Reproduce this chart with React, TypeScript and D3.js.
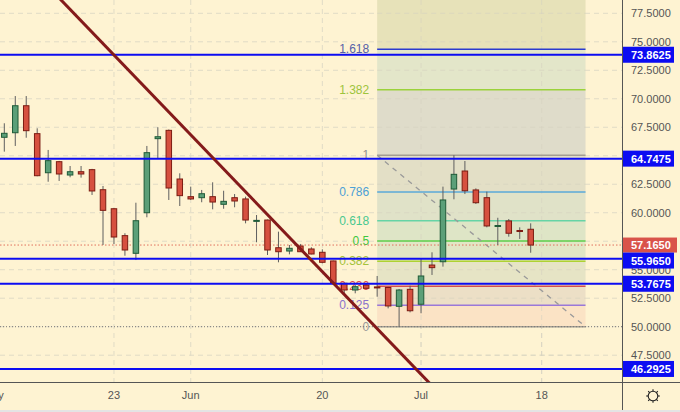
import React from 'react';
import * as d3 from 'd3';

const W = 680;
const H = 412;
const plotRight = 622;
const plotBottom = 382;

// daily candles, one per trading day (index 0 = leftmost bar)
const opens = [
  66.62, 67.02, 69.39, 66.94, 63.51, 64.48, 63.31, 63.6, 63.78, 62.02,
  60.35, 57.99, 56.44, 60.0, 66.5, 67.23, 62.96, 61.41, 61.32, 61.41,
  60.74, 61.32, 61.21, 59.28, 59.36, 56.93, 56.64, 57.08, 56.82, 56.53,
  55.77, 53.81, 53.22, 53.66, 53.49, 53.44, 51.79, 53.28, 51.97, 55.41,
  55.7, 62.08, 63.66, 62.0, 61.32, 58.86, 59.28, 58.44, 58.55,
];
const highs = [
  67.85, 70.24, 70.24, 67.41, 65.51, 64.55, 64.1, 64.1, 63.85, 62.35,
  60.4, 58.2, 60.88, 65.86, 67.5, 67.3, 63.46, 62.29, 62.0, 62.67,
  61.93, 61.64, 61.41, 59.8, 59.4, 58.34, 57.17, 57.26, 56.97, 56.79,
  55.8, 53.85, 53.66, 53.7, 54.45, 53.5, 53.31, 53.6, 55.94, 56.53,
  62.29, 65.05, 64.54, 62.14, 61.85, 59.56, 59.45, 58.72, 59.07,
];
const lows = [
  65.36, 65.86, 66.58, 63.2, 62.72, 62.79, 63.11, 63.08, 61.56, 57.17,
  57.26, 56.23, 55.85, 59.6, 64.78, 61.12, 60.59, 61.12, 60.92, 60.3,
  60.35, 60.48, 59.07, 57.41, 56.29, 55.65, 56.35, 56.55, 56.35, 55.56,
  53.7, 52.96, 52.93, 53.3, 52.63, 51.61, 50.0, 51.26, 51.18, 54.54,
  55.27, 61.18, 61.64, 60.77, 58.72, 57.17, 57.9, 57.7, 56.49,
];
const closes = [
  66.97, 69.39, 67.2, 63.25, 64.57, 63.4, 63.6, 63.4, 61.91, 60.21,
  57.87, 56.73, 59.3, 65.27, 66.67, 62.17, 61.5, 61.21, 61.67, 60.94,
  61.0, 61.03, 59.36, 59.33, 56.73, 56.58, 56.88, 56.58, 56.38, 55.65,
  53.81, 53.22, 53.51, 53.37, 53.47, 51.82, 53.22, 51.4, 54.45, 55.18,
  61.12, 63.37, 61.93, 60.88, 58.84, 58.88, 58.2, 58.42, 57.165,
];

const priceTicks = [47.5, 50, 52.5, 55, 57.5, 60, 62.5, 65, 67.5, 70, 72.5, 75, 77.5];
const timeTickIdx = [-1, 10, 17, 29, 38, 49];
const timeTickLabels = ['May', '23', 'Jun', '20', 'Jul', '18'];

// horizontal support / resistance lines
const levelPrices = [73.8625, 64.7475, 55.965, 53.7675, 46.2925];
const lastPrice = 57.165;
const dottedPrice = 50.0;

// fibonacci retracement
const fibLow = 50.0;
const fibHigh = 65.05;
const fibStartIdx = 34;
const fibEndIdx = 53;
const fibLevels = [0, 0.125, 0.236, 0.382, 0.5, 0.618, 0.786, 1, 1.382, 1.618, 2.618];
const fibLabels = ['0', '0.125', '0.236', '0.382', '0.5', '0.618', '0.786', '1', '1.382', '1.618', '2.618'];
const fibLineColors = ['#a39d92', '#9a78d8', '#d44f4f', '#aed232', '#5ccf4a', '#66d4a6', '#5aa9d8', '#a39d92', '#9bd23a', '#2b3bd0', '#d44f4f'];
const fibTextColors = ['#9a9a9a', '#8a72cc', '#e24a4a', '#a3c23a', '#3fc63f', '#48c890', '#4ca0d6', '#8f8f8f', '#9dc43c', '#5560a8', '#e24a4a'];
const fibZoneColors = ['#fbe3c5', '#ecdfc6', '#e6e4c5', '#e1e6c5', '#dee5c6', '#e0e2c8', '#e3dfc6', '#dfdcca', '#e3e6c9', '#e7e2b9'];

// falling trendline anchors (bar index, price)
const trendIdx = [10, 30];
const trendPrices = [73.84, 53.83];

const x = d3.scaleLinear().domain([0, 48]).range([4.3, 530.7]);
const y = d3.scaleLinear().domain([50, 77.5]).range([326.7, 13.3]);

const BG = '#fef3d2';
const GRID = '#e0dbc6';
const AXIS_TEXT = '#555555';
const FONT = 'Liberation Sans, Arial, sans-serif';

export default function App() {
  const fibX0 = x(fibStartIdx);
  const fibX1 = x(fibEndIdx);
  const fibPrice = (lv: number) => fibLow + lv * (fibHigh - fibLow);

  // extend the trendline across the plot
  const tx0 = x(trendIdx[0]), ty0 = y(trendPrices[0]);
  const tx1 = x(trendIdx[1]), ty1 = y(trendPrices[1]);
  const slope = (ty1 - ty0) / (tx1 - tx0);
  const ext = (px: number) => ty0 + (px - tx0) * slope;

  // right-axis label boxes, red current price first, blue ones pushed off it
  const redY = y(lastPrice);
  const boxH = 16;
  const blueBoxes = levelPrices.map(v => {
    let cy = y(v);
    if (Math.abs(cy - redY) < boxH) cy = cy > redY ? redY + boxH - 0.5 : redY - boxH + 0.5;
    return { v, cy };
  });
  const boxCenters = [redY, ...blueBoxes.map(b => b.cy)];
  // axis labels fully hidden under a box are not shown
  const visibleTicks = priceTicks.filter(t => boxCenters.every(c => Math.abs(y(t) - c) > 5));

  const bodyW = 5.5;

  return (
    <div style={{ position: 'fixed', left: 0, top: 0 }}>
      <svg width={W} height={H} style={{ display: 'block' }} fontFamily={FONT}>
        <defs>
          <clipPath id="plot-clip">
            <rect x={0} y={0} width={plotRight} height={plotBottom} />
          </clipPath>
        </defs>
        <rect x={0} y={0} width={W} height={H} fill={BG} />

        <g clipPath="url(#plot-clip)">
          {/* grid */}
          {priceTicks.map(t => (
            <line key={'hg' + t} x1={0} x2={plotRight} y1={y(t)} y2={y(t)}
              stroke={GRID} strokeDasharray="5 4" strokeWidth={1} />
          ))}
          {timeTickIdx.map(t => (
            <line key={'vg' + t} x1={x(t)} x2={x(t)} y1={0} y2={plotBottom}
              stroke={GRID} strokeDasharray="5 4" strokeWidth={1} />
          ))}

          {/* fib zones */}
          {fibZoneColors.map((c, k) => {
            const yTop = y(fibPrice(fibLevels[k + 1]));
            const yBot = y(fibPrice(fibLevels[k]));
            return <rect key={'fz' + k} x={fibX0} y={yTop} width={fibX1 - fibX0} height={yBot - yTop} fill={c} />;
          })}
          {/* grid over fib zones (faint) */}
          {priceTicks.map(t => (
            <line key={'hg2' + t} x1={fibX0} x2={fibX1} y1={y(t)} y2={y(t)}
              stroke="#d6d2c0" strokeDasharray="5 4" strokeWidth={1} opacity={0.6} />
          ))}
          {timeTickIdx.filter(t => x(t) > fibX0 && x(t) < fibX1).map(t => (
            <line key={'vg2' + t} x1={x(t)} x2={x(t)} y1={0} y2={plotBottom}
              stroke="#d6d2c0" strokeDasharray="5 4" strokeWidth={1} opacity={0.6} />
          ))}
          {fibLevels.slice(0, 10).map((lv, k) => (
            <line key={'fl' + k} x1={fibX0} x2={fibX1} y1={y(fibPrice(lv))} y2={y(fibPrice(lv))}
              stroke={fibLineColors[k]} strokeWidth={1.5} />
          ))}
          <line x1={fibX0} y1={y(fibHigh)} x2={fibX1} y2={y(fibLow)}
            stroke="#9a9a9a" strokeWidth={1.3} strokeDasharray="5 5" />
          {fibLevels.slice(0, 10).map((lv, k) => (
            <text key={'ft' + k} x={fibX0 - 8} y={y(fibPrice(lv))} textAnchor="end"
              dominantBaseline="central" fontSize={12} fill={fibTextColors[k]}>
              {fibLabels[k]}
            </text>
          ))}

          {/* dotted lines: 50.0 and last price */}
          <line x1={0} x2={plotRight} y1={y(dottedPrice)} y2={y(dottedPrice)}
            stroke="#777" strokeWidth={1} strokeDasharray="1 2" />
          <line x1={0} x2={plotRight} y1={y(lastPrice)} y2={y(lastPrice)}
            stroke="#e0705c" strokeWidth={1} strokeDasharray="1.5 2" />

          {/* candles */}
          {opens.map((o, i) => {
            const c = closes[i];
            const up = c >= o;
            const cx = x(i);
            const top = y(Math.max(o, c));
            const bot = y(Math.min(o, c));
            return (
              <g key={'c' + i}>
                <line x1={cx} x2={cx} y1={y(highs[i])} y2={y(lows[i])} stroke="#5e5e5e" strokeWidth={1} />
                <rect x={cx - bodyW / 2} y={top} width={bodyW} height={Math.max(bot - top, 1)}
                  fill={up ? '#5b9f78' : '#d6503f'} stroke={up ? '#1f5b38' : '#7d1c12'} strokeWidth={1} />
              </g>
            );
          })}

          {/* horizontal levels */}
          {levelPrices.map(v => (
            <line key={'lv' + v} x1={0} x2={plotRight} y1={y(v)} y2={y(v)} stroke="#0c0cf2" strokeWidth={2} />
          ))}

          {/* trendline */}
          <line x1={-20} y1={ext(-20)} x2={plotRight + 20} y2={ext(plotRight + 20)}
            stroke="#841a1a" strokeWidth={3} />
        </g>

        {/* axes frame */}
        <line x1={plotRight + 0.5} x2={plotRight + 0.5} y1={0} y2={410} stroke="#555" strokeWidth={1} />
        <line x1={0} x2={W} y1={plotBottom + 0.5} y2={plotBottom + 0.5} stroke="#555" strokeWidth={1} />
        <rect x={0} y={410} width={W} height={2} fill="#e4e4e4" />

        {/* price axis */}
        {visibleTicks.map(t => (
          <text key={'pt' + t} x={631} y={y(t)} dominantBaseline="central" fontSize={11} fill={AXIS_TEXT}>
            {t.toFixed(4)}
          </text>
        ))}
        <rect x={plotRight + 1} y={redY - 7.5} width={54} height={15} fill="#d9534a" />
        <text x={631} y={redY} dominantBaseline="central" fontSize={11} fontWeight="bold" fill="#fff">
          {lastPrice.toFixed(4)}
        </text>
        {blueBoxes.map(b => (
          <g key={'bb' + b.v}>
            <rect x={plotRight + 1} y={b.cy - boxH / 2} width={51} height={boxH} fill="#0c0cf2" />
            <text x={631} y={b.cy} dominantBaseline="central" fontSize={11} fontWeight="bold" fill="#fff">
              {b.v.toFixed(4)}
            </text>
          </g>
        ))}

        {/* time axis */}
        {timeTickIdx.map((t, k) => (
          <text key={'tt' + t} x={x(t)} y={395} textAnchor="middle" dominantBaseline="central"
            fontSize={11} fill={AXIS_TEXT}>
            {timeTickLabels[k]}
          </text>
        ))}

        {/* settings icon */}
        <g transform="translate(653,396)" stroke="#222" strokeWidth={1.1} fill="none">
          <circle r={4.8} />
          {d3.range(8).map(k => {
            const a = (k * Math.PI) / 4;
            return <line key={k} x1={Math.cos(a) * 4.8} y1={Math.sin(a) * 4.8} x2={Math.cos(a) * 6.8} y2={Math.sin(a) * 6.8} />;
          })}
        </g>
      </svg>
    </div>
  );
}
